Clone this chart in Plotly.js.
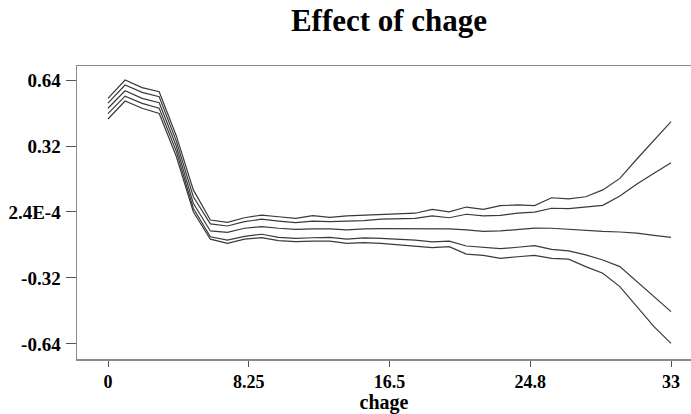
<!DOCTYPE html>
<html>
<head>
<meta charset="utf-8">
<script src="https://cdn.plot.ly/plotly-3.0.1.min.js"></script>
<style>html,body{margin:0;padding:0;background:#fff;}#chart{width:691px;height:414px;}</style>
</head>
<body>
<div id="chart"></div>
<script>
var chage = [0,1,2,3,4,5,6,7,8,9,10,11,12,13,14,15,16,17,18,19,20,21,22,23,24,25,26,27,28,29,30,31,32,33];
var upperOuter = [0.551,0.640,0.603,0.583,0.370,0.107,-0.039,-0.050,-0.028,-0.015,-0.023,-0.031,-0.018,-0.026,-0.019,-0.016,-0.010,-0.008,-0.006,0.013,0.001,0.024,0.013,0.031,0.034,0.031,0.069,0.064,0.074,0.107,0.163,0.257,0.346,0.438];
var upperInner = [0.528,0.616,0.580,0.559,0.345,0.074,-0.058,-0.068,-0.047,-0.035,-0.044,-0.052,-0.044,-0.047,-0.044,-0.042,-0.035,-0.032,-0.031,-0.019,-0.028,-0.011,-0.019,-0.016,-0.006,-0.001,0.018,0.016,0.023,0.032,0.078,0.136,0.188,0.239];
var effect = [0.503,0.588,0.551,0.530,0.320,0.042,-0.092,-0.099,-0.079,-0.071,-0.079,-0.084,-0.082,-0.082,-0.087,-0.082,-0.081,-0.081,-0.082,-0.082,-0.082,-0.087,-0.094,-0.092,-0.084,-0.078,-0.079,-0.084,-0.091,-0.094,-0.097,-0.103,-0.113,-0.123];
var lowerInner = [0.477,0.562,0.527,0.503,0.295,0.018,-0.120,-0.136,-0.118,-0.108,-0.123,-0.128,-0.125,-0.123,-0.132,-0.126,-0.128,-0.132,-0.136,-0.145,-0.141,-0.165,-0.171,-0.178,-0.171,-0.163,-0.181,-0.189,-0.208,-0.233,-0.265,-0.338,-0.411,-0.483];
var lowerOuter = [0.451,0.538,0.503,0.478,0.270,0.001,-0.132,-0.152,-0.132,-0.124,-0.139,-0.144,-0.141,-0.141,-0.152,-0.149,-0.152,-0.160,-0.165,-0.173,-0.168,-0.204,-0.210,-0.225,-0.217,-0.210,-0.225,-0.229,-0.265,-0.297,-0.362,-0.459,-0.556,-0.637];
var xTickVals = [0, 8.25, 16.5, 24.75, 33];
var xTickText = ["0", "8.25", "16.5", "24.8", "33"];
var yTickVals = [0.64, 0.32, 0.00024, -0.32, -0.64];
var yTickText = ["0.64", "0.32", "2.4E-4", "-0.32", "-0.64"];

var series = [upperOuter, upperInner, effect, lowerInner, lowerOuter];
var traces = series.map(function (s) {
  return {x: chage, y: s, type: 'scatter', mode: 'lines',
          line: {color: '#3a3a3a', width: 1.2}, hoverinfo: 'skip'};
});
var font = {family: '"Liberation Serif", "Times New Roman", serif', color: '#000'};
var layout = {
  width: 691, height: 414,
  margin: {l: 77, r: 0, t: 66, b: 55, pad: 0},
  paper_bgcolor: '#fff', plot_bgcolor: '#fff',
  showlegend: false,
  font: font,
  title: {text: '<b>Effect of chage</b>', x: 389/691, xanchor: 'center', y: 1 - 20/414, yanchor: 'middle',
          font: {family: font.family, size: 31, color: '#000'}},
  xaxis: {range: [-1.817, 34.17], tickvals: xTickVals, ticktext: xTickText,
          showgrid: false, zeroline: false, showline: true, mirror: true,
          linecolor: '#8a8a8a', linewidth: 1.5, ticks: 'outside', ticklen: 6,
          tickcolor: '#555', tickwidth: 1,
          tickfont: {family: font.family, size: 18, color: '#000', weight: 'bold'},
          title: {text: '<b>chage</b>', standoff: 7, font: {family: font.family, size: 20, color: '#000'}}},
  yaxis: {range: [-0.713, 0.708], tickvals: yTickVals, ticktext: yTickText,
          showgrid: false, zeroline: false, showline: true, mirror: false,
          linecolor: '#8a8a8a', linewidth: 1.5, ticks: 'outside', ticklen: 10,
          tickcolor: '#555', tickwidth: 1, ticklabelstandoff: 1,
          tickfont: {family: font.family, size: 19, color: '#000', weight: 'bold'}}
};
Plotly.newPlot('chart', traces, layout, {staticPlot: true, displayModeBar: false});
</script>
</body>
</html>
